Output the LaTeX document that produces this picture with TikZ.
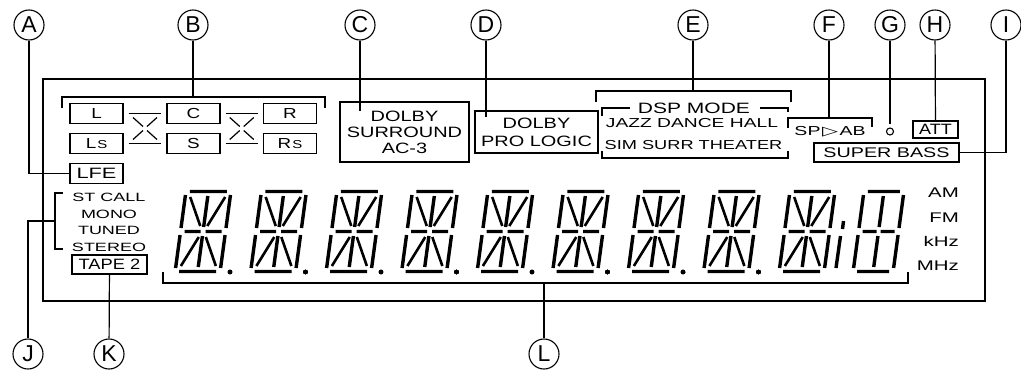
\documentclass[tikz,border=0pt]{standalone}
\usepackage{fontspec}
\setmainfont{Liberation Sans}
\newfontfamily\symfont{DejaVu Sans}
\usetikzlibrary{positioning, calc}

% size and horizontal stretch of the display lettering
\newcommand{\wfont}[2]{\fontsize{#1}{#1}\selectfont\addfontfeature{FakeStretch=#2}}

% one slanted 14-segment digit, top-left corner at (#1,191)
\newcommand{\segdigit}[1]{%
  \begin{scope}[shift={(#1,191)}, xslant=0.135]
    \draw[seg] (4,0.5) -- (41,0.5) (4,80.5) -- (41,80.5)
      (0,4) -- (0,37) (0,44) -- (0,77) (45,4) -- (45,37) (45,44) -- (45,77)
      (4,40.5) -- (20,40.5) (25,40.5) -- (41,40.5)
      (22.5,5) -- (22.5,36) (22.5,45) -- (22.5,76);
    \draw[seg, line width=2.6] (5,6) -- (19,35) (40,6) -- (26,35)
      (19,46) -- (5,75) (26,46) -- (40,75);
  \end{scope}}

\begin{document}
\begin{tikzpicture}[x=1pt, y=-1pt,
    callout/.style={circle, draw, line width=1.1, minimum size=30, inner sep=0, font=\fontsize{23}{23}\selectfont},
    wire/.style={line width=1.2},
    lamp/.style={draw, line width=1.2, inner sep=0, minimum height=19, font=\wfont{15}{1.22}},
    spk/.style={lamp, minimum width=53, minimum height=20, font=\wfont{14.5}{1.3}},
    txt/.style={inner sep=0, font=\wfont{13}{1.44}},
    tuner/.style={inner sep=0, font=\wfont{12}{1.5}},
    unit/.style={inner sep=0, anchor=east, font=\wfont{14}{1.46}},
    seg/.style={line width=3.4}
]
    \useasboundingbox (0,0) rectangle (1021,370);

    % display frame
    \draw[wire] (43,79) rectangle (985,301);

    % callouts
    \node[callout] (callA) at (29,25) {A};
    \node[callout] (callB) at (193,25) {B};
    \node[callout] (callC) at (360,25) {C};
    \node[callout] (callD) at (486,25) {D};
    \node[callout] (callE) at (693,25) {E};
    \node[callout] (callF) at (829,25) {F};
    \node[callout] (callG) at (890,25) {G};
    \node[callout] (callH) at (935,25) {H};
    \node[callout] (callI) at (1006,25) {I};
    \node[callout] (callJ) at (28,354) {J};
    \node[callout] (callK) at (109,354) {K};
    \node[callout] (callL) at (544,354) {L};

    % speaker channels
    \node[spk] (spL) at (96.5,113.5) {L};
    \node[spk] (spC) at (193.5,113.5) {C};
    \node[spk] (spR) at (290,113.5) {R};
    \node[spk] (spLs) at (96.5,143.5) {L\kern1pt{\wfont{11.5}{1.3}S}};
    \node[spk] (spS) at (193.5,143.5) {S};
    \node[spk] (spRs) at (290,143.5) {R\kern1pt{\wfont{11.5}{1.3}S}};
    \node[spk, font=\wfont{15}{1.45}] (lfe) at (96.5,173.5) {LFE};

    \draw[wire] ([xshift=5]spL.east) -- ([xshift=-5]spC.west);
    \draw[wire] ([xshift=5]spLs.east) -- ([xshift=-5]spS.west);
    \draw[wire] ([xshift=5]spC.east) -- ([xshift=-5]spR.west);
    \draw[wire] ([xshift=5]spS.east) -- ([xshift=-5]spRs.west);
    \coordinate (xLC) at ($(spL.east)!0.5!(spS.west)$);
    \coordinate (xCR) at ($(spC.east)!0.5!(spRs.west)$);
    \foreach \c in {xLC, xCR}
      \foreach \sx in {-1,1}
        \foreach \sy in {-1,1}
          \draw[wire] ($(\c)+({12*\sx},{11*\sy})$) -- ($(\c)+({2*\sx},{2*\sy})$);

    \draw[wire] (62,108) -- (62,97) -- (325,97) -- (325,108);
    \coordinate (brkB) at (193,97);

    % dolby indicators
    \node[lamp, minimum width=129, minimum height=60, align=center, font=\wfont{15}{1.33}\setlength{\baselineskip}{16pt}]
      (ac3) at (404.5,132) {DOLBY\\SURROUND\\AC-3};
    \node[lamp, minimum width=123, minimum height=42, align=center, font=\wfont{15}{1.33}\setlength{\baselineskip}{18pt}]
      (prologic) at (536.5,132) {DOLBY\\PRO LOGIC};
    \coordinate (endC) at (360,111);
    \coordinate (endD) at (486,117);

    % dsp modes
    \draw[wire] (596,102) -- (596,91) -- (791,91) -- (791,102);
    \coordinate (brkE) at (693,91);
    \draw[wire] (602,116) -- (602,108) -- (630,108);
    \draw[wire] (760,108) -- (788,108) -- (788,112);
    \draw[wire] (602,151) -- (602,158) -- (788,158) -- (788,151);
    \node[txt, font=\wfont{15}{1.4}] (dspmode) at (694,108) {DSP MODE};
    \node[txt, font=\wfont{13}{1.48}] (jazz) at (692,123) {JAZZ DANCE HALL};
    \node[txt, font=\wfont{13}{1.4}] (sim) at (693.5,145) {SIM SURR THEATER};

    % speaker a/b, att, bass
    \draw[wire] (788,128) -- (788,118) -- (872,118) -- (872,127);
    \coordinate (brkF) at (829,118);
    \node[txt, font=\wfont{13}{1.5}] (spab) at (830,131.5)
      {SP\kern1.5pt{\symfont\fontsize{13}{13}\selectfont\addfontfeature{FakeStretch=1.6}▷}\kern1.5pt AB};
    \node[draw, circle, line width=1.1, minimum size=7, inner sep=0] (ledG) at (890,131.5) {};
    \node[lamp, minimum width=45, minimum height=17, font=\wfont{15}{1.2}] (att) at (935.5,129.5) {ATT};
    \node[lamp, minimum width=145, font=\wfont{14}{1.41}] (bass) at (886.5,152.5) {SUPER BASS};

    % tuner indicators
    \draw[wire] (63,193) -- (55,193) -- (55,249) -- (63,249);
    \coordinate (brkJ) at (55,221);
    \node[tuner] (stcall) at (109,197.5) {ST CALL};
    \node[tuner] (mono) at (109,214) {MONO};
    \node[tuner] (tuned) at (109,230) {TUNED};
    \node[tuner] (stereo) at (109,247.5) {STEREO};
    \node[lamp, minimum width=75] (tape) at (109.5,264.5) {TAPE 2};

    % units
    \node[unit] (am) at (959,193) {AM};
    \node[unit] (fm) at (959,217.5) {FM};
    \node[unit] (khz) at (959,241.5) {kHz};
    \node[unit] (mhz) at (959,266) {MHz};

    % character display
    \foreach \i in {0,...,8}
      \segdigit{186+75.5*\i}
    \foreach \i in {0,...,7}
      \fill ({230+75.5*\i},272) circle (2.2);
    \draw[seg] (843.5,221) -- (842.5,229) (840.5,236) -- (836,268);
    \begin{scope}[shift={(864,191)}, xslant=0.135]
      \draw[seg] (4,0.5) -- (36,0.5) (4,80.5) -- (36,80.5)
        (0,4) -- (0,37) (0,44) -- (0,77) (40,4) -- (40,37) (40,44) -- (40,77)
        (4,40.5) -- (18,40.5) (22,40.5) -- (36,40.5)
        (20,5) -- (20,36) (20,45) -- (20,76);
    \end{scope}
    \draw[wire] (163,272) -- (163,283) -- (908,283) -- (908,272);
    \coordinate (brkL) at (544,283);

    % leader lines
    \draw[wire] (callA) |- (lfe);
    \draw[wire] (callB) -- (brkB);
    \draw[wire] (callC) -- (endC);
    \draw[wire] (callD) -- (endD);
    \draw[wire] (callE) -- (brkE);
    \draw[wire] (callF) -- (brkF);
    \draw[wire, shorten >=3] (callG) -- (ledG);
    \draw[wire] (callH) -- (att);
    \draw[wire] (callI) |- (bass);
    \draw[wire] (callJ) |- (brkJ);
    \draw[wire] (callK) -- (tape);
    \draw[wire] (callL) -- (brkL);
\end{tikzpicture}
\end{document}
